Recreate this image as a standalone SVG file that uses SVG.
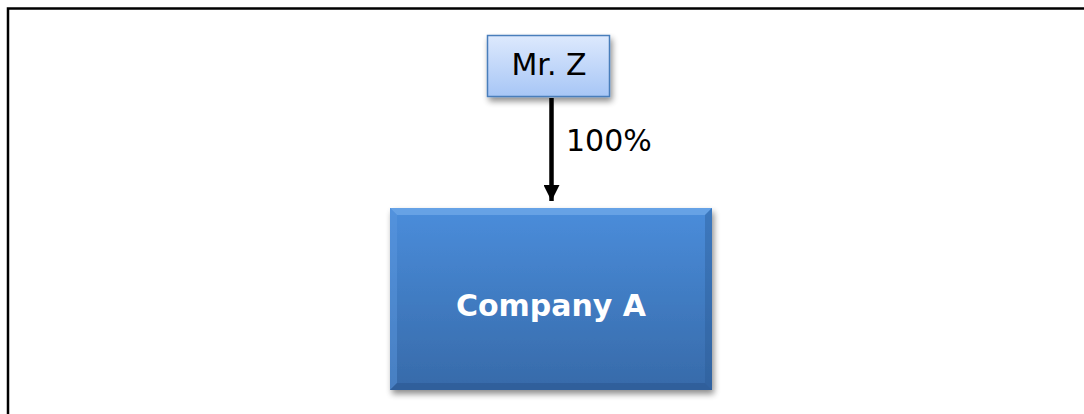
<svg xmlns="http://www.w3.org/2000/svg" width="1084" height="414" viewBox="0 0 1084 414">
  <defs>
    <linearGradient id="lightFill" x1="0" y1="0" x2="0" y2="1">
      <stop offset="0" stop-color="#dde9fd"/>
      <stop offset="1" stop-color="#a7c6f6"/>
    </linearGradient>
    <linearGradient id="darkFill" x1="0" y1="0" x2="0" y2="1">
      <stop offset="0" stop-color="#4a8ddb"/>
      <stop offset="1" stop-color="#376aa9"/>
    </linearGradient>
    <filter id="shadow" x="-10%" y="-10%" width="125%" height="130%">
      <feGaussianBlur in="SourceAlpha" stdDeviation="3"/>
      <feOffset dx="2" dy="4" result="b"/>
      <feComponentTransfer><feFuncA type="linear" slope="0.45"/></feComponentTransfer>
      <feMerge><feMergeNode/><feMergeNode in="SourceGraphic"/></feMerge>
    </filter>
    <marker id="arrowHead" viewBox="0 0 10 10" refX="10" refY="5" markerWidth="16" markerHeight="16" markerUnits="userSpaceOnUse" orient="auto">
      <path d="M0,0 L10,5 L0,10 Z" fill="#000"/>
    </marker>
    <style>
      .lbl { font-family: "DejaVu Sans", Verdana, sans-serif; font-size: 30px; }
      .light { fill: url(#lightFill); stroke: #4a7ebb; stroke-width: 1.5; }
      .dark { fill: url(#darkFill); }
    </style>
  </defs>

  <rect width="1084" height="414" fill="#fff"/>
  <!-- frame: open on the right and bottom -->
  <path d="M8,414 V8.5 H1084" fill="none" stroke="#000" stroke-width="2.5"/>

  <g id="connectors">
    <line x1="551.5" y1="98" x2="551.5" y2="201" stroke="#000" stroke-width="4.5" marker-end="url(#arrowHead)"/>
    <text class="lbl" x="566" y="151" fill="#000">100%</text>
  </g>

  <g id="mr-z">
    <rect class="light" x="487.5" y="35.5" width="122" height="61" filter="url(#shadow)"/>
    <text class="lbl" x="549" y="75" text-anchor="middle" fill="#000">Mr. Z</text>
  </g>

  <g id="company-a">
    <rect class="dark" x="390" y="208" width="322" height="182" filter="url(#shadow)"/>
    <!-- bevel edges -->
    <polygon points="390,208 712,208 705,215 397,215" fill="#79b0ec" opacity="0.6"/>
    <polygon points="390,208 397,215 397,383 390,390" fill="#5d9ae0" opacity="0.45"/>
    <polygon points="712,208 712,390 705,383 705,215" fill="#2b5a93" opacity="0.4"/>
    <polygon points="390,390 712,390 705,383 397,383" fill="#27528a" opacity="0.45"/>
    <text class="lbl" x="551" y="316" text-anchor="middle" fill="#fff" font-weight="bold">Company A</text>
  </g>
</svg>
